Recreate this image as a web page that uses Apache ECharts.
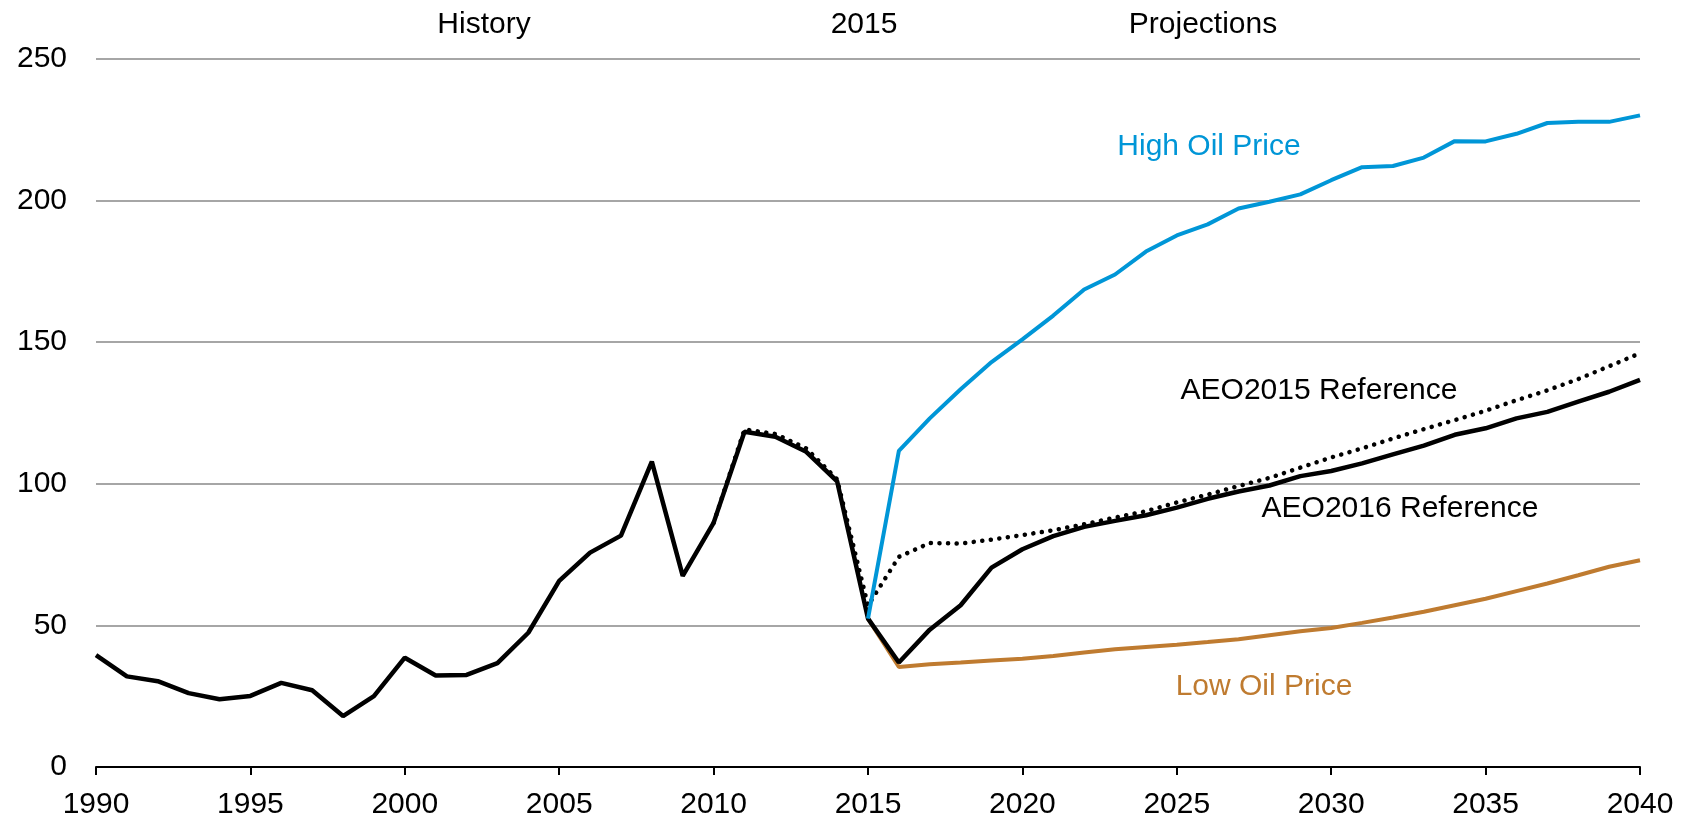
<!DOCTYPE html>
<html>
<head>
<meta charset="utf-8">
<script src="https://cdn.jsdelivr.net/npm/echarts@6/dist/echarts.min.js"></script>
<style>
  html, body { margin: 0; padding: 0; background: #fff; }
  #chart { width: 1694px; height: 820px; }
</style>
</head>
<body>
<div id="chart"></div>
<script>
// years covered by each block of data
const historyYears = []
for (let y = 1990; y <= 2015; y++) historyYears.push(y)
const projYears = []
for (let y = 2015; y <= 2040; y++) projYears.push(y)
const aeo2015Years = []
for (let y = 2010; y <= 2040; y++) aeo2015Years.push(y)

// history, 1990-2015
const history = [39.5, 32.0, 30.3, 26.1, 23.9, 25.1, 29.7, 27.1, 18.0, 25.0, 38.6, 32.3, 32.5,
  36.7, 47.4, 65.7, 75.7, 81.7, 107.8, 67.5, 86.2, 118.4, 116.6, 111.3, 100.9, 52.4]
// projections, 2015-2040
const aeo2016Ref = [52.4, 36.9, 48.5, 57.1, 70.4, 76.9, 81.5, 84.8, 86.9, 88.9, 91.6, 94.7, 97.3,
  99.4, 102.7, 104.5, 107.2, 110.4, 113.5, 117.3, 119.6, 123.1, 125.4, 129.0, 132.5, 136.7]
const highOil = [52.4, 111.6, 123.1, 133.4, 143.0, 151.0, 159.4, 168.6, 173.9, 182.0, 187.7, 191.6, 197.2,
  199.6, 202.2, 207.2, 211.8, 212.2, 215.2, 221.0, 220.9, 223.6, 227.4, 227.8, 227.8, 230.1]
const lowOil = [52.4, 35.3, 36.3, 36.9, 37.6, 38.2, 39.2, 40.4, 41.6, 42.4, 43.2, 44.1, 45.1,
  46.5, 47.9, 49.1, 50.9, 52.8, 54.8, 57.1, 59.4, 62.1, 64.8, 67.7, 70.7, 73.0]
// AEO2015 reference, 2010-2040
const aeo2015Ref = [86.2, 119.2, 117.6, 112.5, 101.6, 57.0, 74.2, 79.1, 78.9, 80.3, 81.9, 83.6, 85.7,
  88.1, 90.3, 93.4, 96.2, 99.2, 102.1, 105.7, 109.3, 112.5, 116.0, 119.3, 122.5, 125.8, 129.5,
  133.0, 137.0, 141.5, 146.1]

const pairs = (xs, ys) => xs.map((x, i) => [x, ys[i]])

const FONT = '"Liberation Sans", Arial, sans-serif'
const chart = echarts.init(document.getElementById('chart'))

// text annotations (label, x, y, colour)
const notes = [
  ['History', 484, 25, '#000'],
  ['2015', 864, 25, '#000'],
  ['Projections', 1203, 25, '#000'],
  ['High Oil Price', 1209, 147, '#0096D7'],
  ['AEO2015 Reference', 1319, 391, '#000'],
  ['AEO2016 Reference', 1400, 509, '#000'],
  ['Low Oil Price', 1264, 687, '#BF7B30']
]

const option = {
  animation: false,
  backgroundColor: '#fff',
  textStyle: { fontFamily: FONT },
  grid: { left: 96, right: 54, top: 59, bottom: 53 },
  xAxis: {
    type: 'value',
    min: 1990,
    max: 2040,
    interval: 5,
    axisLine: { lineStyle: { color: '#000', width: 2 } },
    axisTick: { show: true, length: 8, lineStyle: { color: '#000', width: 2 } },
    axisLabel: {
      color: '#000', fontSize: 30, margin: 23, fontFamily: FONT,
      formatter: (v) => String(v)
    },
    splitLine: { show: false }
  },
  yAxis: {
    type: 'value',
    min: 0,
    max: 250,
    interval: 50,
    axisLine: { show: false },
    axisTick: { show: false },
    axisLabel: { color: '#000', fontSize: 30, margin: 29, fontFamily: FONT },
    splitLine: { lineStyle: { color: '#898989', width: 1.5 } }
  },
  series: [
    {
      name: 'Low Oil Price',
      type: 'line',
      data: pairs(projYears, lowOil),
      showSymbol: false,
      lineStyle: { color: '#BF7B30', width: 4 },
      z: 2
    },
    {
      name: 'AEO2015 Reference',
      type: 'line',
      data: pairs(aeo2015Years, aeo2015Ref),
      showSymbol: false,
      lineStyle: { color: '#000', width: 4.5, type: [0.1, 8.5], cap: 'round' },
      z: 3
    },
    {
      name: 'AEO2016 Reference',
      type: 'line',
      data: pairs(historyYears, history).concat(pairs(projYears.slice(1), aeo2016Ref.slice(1))),
      showSymbol: false,
      lineStyle: { color: '#000', width: 4.5 },
      z: 4,
      markLine: {
        silent: true,
        symbol: 'none',
        label: { show: false },
        lineStyle: { color: '#BFBFBF', width: 2, type: 'solid' },
        data: [[{ coord: [2015, 0] }, { coord: [2015, 253.5] }]]
      }
    },
    {
      name: 'High Oil Price',
      type: 'line',
      data: pairs(projYears, highOil),
      showSymbol: false,
      lineStyle: { color: '#0096D7', width: 4 },
      z: 5
    }
  ],
  graphic: notes.map(([text, x, y, color]) => ({
    type: 'text',
    x: x,
    y: y,
    style: { text: text, fill: color, font: '30px ' + FONT, align: 'center', verticalAlign: 'middle' }
  }))
}

chart.setOption(option)
</script>
</body>
</html>
